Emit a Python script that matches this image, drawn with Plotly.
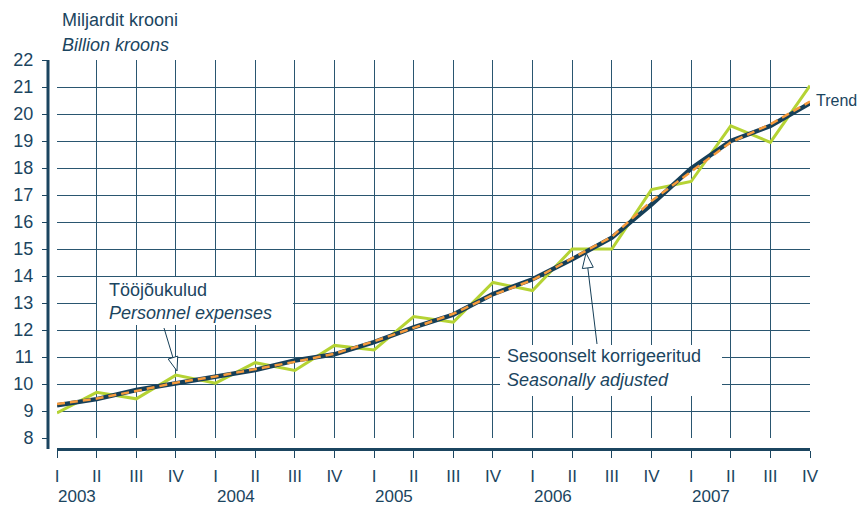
import plotly.graph_objects as go

# quarterly data, 2003 Q1 .. 2007 Q4 (billion kroons)
quarters = ["I", "II", "III", "IV"] * 5
years = ["2003", "2004", "2005", "2006", "2007"]
seasonally_adjusted = [8.93, 9.69, 9.45, 10.33, 10.03, 10.79, 10.50, 11.43, 11.26, 12.50,
                       12.29, 13.76, 13.46, 15.00, 15.00, 17.20, 17.50, 19.56, 18.95, 21.05]
trend = [9.21, 9.44, 9.78, 10.03, 10.31, 10.52, 10.87, 11.10, 11.55, 12.10,
         12.57, 13.33, 13.88, 14.62, 15.42, 16.65, 17.98, 19.00, 19.56, 20.40]
trend_alt = [9.26, 9.46, 9.74, 10.05, 10.28, 10.55, 10.82, 11.12, 11.58, 12.08,
             12.60, 13.30, 13.85, 14.66, 15.45, 16.78, 17.86, 18.95, 19.62, 20.46]

x = list(range(len(quarters)))
navy = "#163F58"
green = "#B5D334"
orange = "#F59A3C"
textc = "#1B4560"
font = "Liberation Sans, Arial, sans-serif"

# page has an 8px body margin, so the figure is drawn 8px smaller
OFF = 8
W, H = 866 - OFF, 507 - OFF
L, T = 48 - OFF, 60 - OFF
R, B = 56, 58
PW, PH = W - L - R, H - T - B
# plot area in page pixels
PX0, PX1, PY0, PY1 = 57, 810, 60, 438


def dx(px):
    return (px - PX0) / (PX1 - PX0) * 19


def dy(py):
    return 22 - (py - PY0) / (PY1 - PY0) * 14


def paper_x(px):
    return (px - OFF - L) / PW


def paper_y(py):
    return (H - B - (py - OFF)) / PH


fig = go.Figure()
fig.add_trace(go.Scatter(x=x, y=seasonally_adjusted, mode="lines",
                         line=dict(color=green, width=3), showlegend=False))
fig.add_trace(go.Scatter(x=x, y=trend, mode="lines",
                         line=dict(color=navy, width=4.5), showlegend=False))
fig.add_trace(go.Scatter(x=x, y=trend_alt, mode="lines",
                         line=dict(color=orange, width=2.5, dash="8px,5px"), showlegend=False))

shapes = []
# white label boxes
shapes.append(dict(type="rect", xref="x", yref="y", x0=dx(97), x1=dx(293), y0=dy(277), y1=dy(325),
                   fillcolor="white", line_width=0, layer="above"))
shapes.append(dict(type="rect", xref="x", yref="y", x0=dx(500), x1=dx(722), y0=dy(345), y1=dy(396),
                   fillcolor="white", line_width=0, layer="above"))


def arrow(tail, tip, head=14, half=5):
    (tx, ty), (hx, hy) = tail, tip
    vx, vy = hx - tx, hy - ty
    n = (vx ** 2 + vy ** 2) ** 0.5
    ux, uy = vx / n, vy / n
    bx, by = hx - head * ux, hy - head * uy
    px_, py_ = -uy, ux
    p1 = (bx + half * px_, by + half * py_)
    p2 = (bx - half * px_, by - half * py_)
    shapes.append(dict(type="line", xref="x", yref="y", x0=dx(tx), y0=dy(ty), x1=dx(bx), y1=dy(by),
                       line=dict(color=navy, width=1), layer="above"))
    path = "M {} {} L {} {} L {} {} Z".format(dx(hx), dy(hy), dx(p1[0]), dy(p1[1]), dx(p2[0]), dy(p2[1]))
    shapes.append(dict(type="path", xref="x", yref="y", path=path, fillcolor="white",
                       line=dict(color=navy, width=1), layer="above"))


arrow((164, 328), (177, 371))
arrow((597, 344), (586, 253), head=15, half=5.5)

# y axis line, offset from the grid
shapes.append(dict(type="line", xref="paper", yref="paper", x0=0, x1=0, y0=0, y1=1,
                   line=dict(color=textc, width=3)))

annotations = []
annotations.append(dict(text="Miljardit krooni", xref="paper", yref="paper",
                        x=paper_x(60), y=paper_y(20), xanchor="left", yanchor="middle",
                        showarrow=False, font=dict(size=18, color=textc, family=font)))
annotations.append(dict(text="<i>Billion kroons</i>", xref="paper", yref="paper",
                        x=paper_x(60), y=paper_y(45), xanchor="left", yanchor="middle",
                        showarrow=False, font=dict(size=18, color=textc, family=font)))
# year labels sit under the first quarter of each year
for i, yr in enumerate(years):
    qx = PX0 + (PX1 - PX0) * (4 * i) / 19
    annotations.append(dict(text=yr, xref="paper", yref="paper", x=paper_x(qx - 1),
                            y=paper_y(497), xanchor="left", yanchor="middle",
                            showarrow=False, font=dict(size=17, color=textc, family=font)))
for txt, px, py in [("Tööjõukulud", 107, 290), ("<i>Personnel expenses</i>", 107, 313),
                    ("Sesoonselt korrigeeritud", 505, 356), ("<i>Seasonally adjusted</i>", 505, 380)]:
    annotations.append(dict(text=txt, xref="x", yref="y", x=dx(px), y=dy(py),
                            xanchor="left", yanchor="middle", showarrow=False,
                            font=dict(size=18, color=textc, family=font)))
annotations.append(dict(text="Trend", xref="paper", yref="y", x=paper_x(814), y=dy(100),
                        xanchor="left", yanchor="middle", showarrow=False,
                        font=dict(size=16, color=textc, family=font)))

fig.update_layout(
    width=W, height=H,
    margin=dict(l=L, r=R, t=T, b=B, pad=0, autoexpand=False),
    paper_bgcolor="white", plot_bgcolor="white",
    font=dict(family=font, color=textc, size=17),
    shapes=shapes, annotations=annotations,
    xaxis=dict(range=[0, 19], domain=[(PX0 - OFF - L) / PW, 1], anchor="free", position=0,
               tickvals=x, ticktext=quarters, ticks="outside", ticklen=7, tickwidth=1,
               tickcolor=textc, showline=True, linecolor=textc, linewidth=3,
               ticklabelstandoff=4,
               showgrid=True, gridcolor="#2A5670", gridwidth=1, zeroline=False,
               tickfont=dict(size=17, color=textc, family=font)),
    yaxis=dict(range=[8, 22], domain=[(H - B - (PY1 - OFF)) / PH, 1],
               anchor="free", position=0,
               tickvals=list(range(8, 23)), ticks="outside", ticklen=6, tickwidth=1,
               tickcolor=textc, showline=False, ticklabelstandoff=5,
               showgrid=True, gridcolor="#2A5670", gridwidth=1, zeroline=False,
               tickfont=dict(size=18, color=textc, family=font)),
)

fig.write_html("out.html")
